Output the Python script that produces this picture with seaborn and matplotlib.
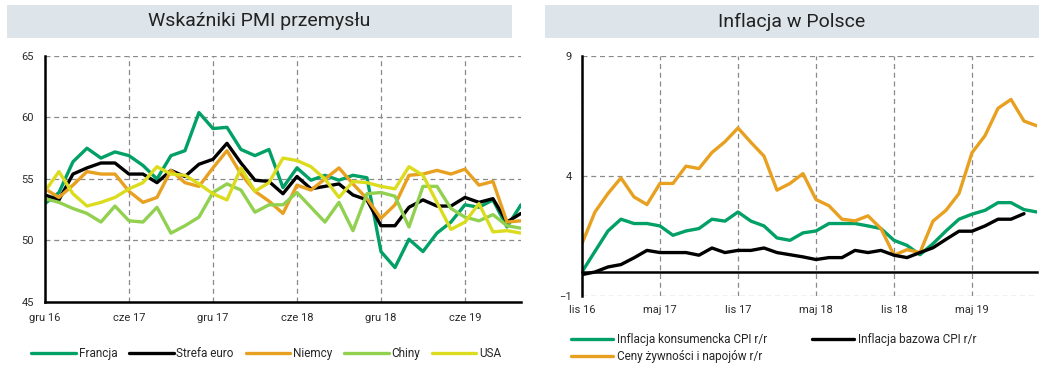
import matplotlib
matplotlib.use("Agg")
import pandas as pd
import matplotlib.pyplot as plt
import seaborn as sns
from matplotlib.patches import Rectangle

# --- data: PMI (gru 16 - paz 19) ---
pmi_ticks = ["gru 16", "cze 17", "gru 17", "cze 18", "gru 18", "cze 19"]
francja = [53.0, 53.9, 56.4, 57.5, 56.7, 57.2, 56.9, 56.1, 55.0, 56.9, 57.3, 60.4,
           59.1, 59.2, 57.4, 56.9, 57.4, 54.3, 55.9, 54.9, 55.3, 54.9, 55.3, 55.1,
           49.1, 47.8, 50.1, 49.1, 50.6, 51.5, 52.9, 52.7, 53.3, 51.1, 52.9]
strefa = [53.7, 53.3, 55.4, 55.9, 56.3, 56.3, 55.4, 55.4, 54.7, 55.7, 55.2, 56.2,
          56.6, 57.9, 56.3, 54.9, 54.8, 53.8, 55.2, 54.2, 54.4, 54.6, 53.7, 53.3,
          51.2, 51.2, 52.7, 53.3, 52.8, 52.8, 53.5, 53.1, 53.4, 51.5, 52.2]
niemcy = [54.2, 53.5, 54.5, 55.6, 55.4, 55.4, 54.0, 53.1, 53.5, 55.7, 54.7, 54.4,
          55.9, 57.3, 55.4, 54.0, 53.2, 52.2, 54.5, 54.1, 55.0, 55.9, 54.6, 53.4,
          51.8, 52.9, 55.3, 55.4, 55.7, 55.4, 55.8, 54.5, 54.8, 51.5, 51.6]
chiny = [53.4, 53.1, 52.6, 52.2, 51.5, 52.8, 51.6, 51.5, 52.7, 50.6, 51.2, 51.9,
         53.9, 54.6, 54.1, 52.3, 52.9, 52.9, 53.9, 52.7, 51.5, 53.1, 50.8, 53.8,
         53.9, 53.6, 51.1, 54.4, 54.4, 52.6, 51.9, 51.6, 52.1, 51.2, 51.0]
usa = [54.0, 55.6, 53.8, 52.8, 53.1, 53.5, 54.2, 54.7, 56.0, 55.4, 55.3, 54.6,
       53.8, 53.3, 55.9, 54.0, 54.7, 56.7, 56.5, 56.0, 55.0, 53.5, 54.8, 54.7,
       54.4, 54.2, 56.0, 55.3, 53.1, 50.9, 51.5, 53.0, 50.7, 50.8, 50.6]
pmi_names = ["Francja", "Strefa euro", "Niemcy", "Chiny", "USA"]
pmi_colors = ["#00A066", "#000000", "#E8A020", "#92D050", "#DCDC1E"]

# --- data: inflacja (lis 16 - paz 19) ---
inf_ticks = ["lis 16", "maj 17", "lis 17", "maj 18", "lis 18", "maj 19"]
cpi = [0.0, 0.86, 1.71, 2.2, 2.02, 2.02, 1.92, 1.53, 1.71, 1.81, 2.2, 2.12,
       2.5, 2.12, 1.92, 1.42, 1.32, 1.63, 1.71, 2.02, 2.02, 2.02, 1.92, 1.81,
       1.32, 1.11, 0.72, 1.18, 1.71, 2.2, 2.41, 2.57, 2.89, 2.89, 2.6, 2.5]
bazowa = [-0.11, 0.0, 0.21, 0.31, 0.59, 0.9, 0.81, 0.81, 0.81, 0.7, 1.0, 0.81,
          0.9, 0.9, 1.0, 0.81, 0.72, 0.63, 0.52, 0.6, 0.6, 0.9, 0.81, 0.9,
          0.7, 0.6, 0.81, 1.01, 1.36, 1.7, 1.7, 1.92, 2.2, 2.2, 2.43]
zywnosc = [1.18, 2.5, 3.27, 3.92, 3.13, 2.81, 3.69, 3.69, 4.41, 4.31, 4.98, 5.43,
           6.0, 5.4, 4.83, 3.41, 3.69, 4.1, 3.02, 2.76, 2.2, 2.13, 2.34, 1.81,
           0.7, 0.93, 0.81, 2.12, 2.57, 3.27, 4.97, 5.68, 6.82, 7.19, 6.29, 6.09]
inf_names = ["Inflacja konsumencka CPI r/r", "Ceny żywności i napojów r/r",
             "Inflacja bazowa CPI r/r"]
inf_colors = ["#00A066", "#E8A020", "#000000"]


def to_long(series, names):
    rows = []
    for name, vals in zip(names, series):
        for i, v in enumerate(vals):
            rows.append({"m": i, "v": v, "s": name})
    return pd.DataFrame(rows)


pmi_df = to_long([francja, strefa, niemcy, chiny, usa], pmi_names)
inf_df = to_long([cpi, zywnosc, bazowa], inf_names)

sns.set_theme(style="white")
plt.rcParams["font.family"] = ["Roboto", "DejaVu Sans"]

fig = plt.figure(figsize=(10.48, 3.70), dpi=100)
ax1 = fig.add_axes([0.0429, 0.1838, 0.4542, 0.6649])
ax2 = fig.add_axes([0.5553, 0.2, 0.4342, 0.6486])

grid_kw = dict(color="#8a8a8a", linestyle=(0, (4, 3)), linewidth=0.9)

# --- left: PMI ---
sns.lineplot(data=pmi_df, x="m", y="v", hue="s", hue_order=pmi_names,
             palette=dict(zip(pmi_names, pmi_colors)), linewidth=2.4,
             legend=False, ax=ax1)
ax1.set_xlim(0, 34)
ax1.set_ylim(45, 65)
ax1.set_yticks([45, 50, 55, 60, 65])
ax1.set_xticks(range(0, 31, 6))
ax1.set_xticklabels(pmi_ticks)
ax1.grid(True, **grid_kw)
ax1.set_axisbelow(True)
for s in ["top", "right"]:
    ax1.spines[s].set_visible(False)
for s in ["left", "bottom"]:
    ax1.spines[s].set_color("black")
    ax1.spines[s].set_linewidth(1.8)
ax1.tick_params(axis="both", direction="out", length=4, width=1.2, color="black",
                labelsize=8, labelcolor="#2a2a2a", pad=4)
ax1.set_xlabel("")
ax1.set_ylabel("")
ax1.legend(ax1.get_lines(), pmi_names, loc="center", ncol=5, frameon=False,
           bbox_to_anchor=(0.254, 0.045), bbox_transform=fig.transFigure,
           fontsize=8.5, handlelength=3.8, handletextpad=0.2, columnspacing=1.0,
           borderaxespad=0)

# --- right: inflacja ---
sns.lineplot(data=inf_df, x="m", y="v", hue="s", hue_order=inf_names,
             palette=dict(zip(inf_names, inf_colors)), linewidth=2.4,
             legend=False, ax=ax2)
ax2.set_xlim(0, 35)
ax2.set_ylim(-1, 9)
ax2.set_yticks([-1, 4, 9])
ax2.set_xticks(range(0, 31, 6))
ax2.set_xticklabels(inf_ticks)
ax2.grid(True, **grid_kw)
ax2.set_axisbelow(True)
for s in ["top", "right"]:
    ax2.spines[s].set_visible(False)
ax2.spines["left"].set_color("black")
ax2.spines["left"].set_linewidth(1.8)
ax2.spines["bottom"].set_color("black")
ax2.spines["bottom"].set_linewidth(1.8)
ax2.spines["bottom"].set_position(("data", 0))
ax2.tick_params(axis="y", direction="out", length=3, width=1.2, color="black",
                labelsize=8, labelcolor="#2a2a2a", pad=4)
ax2.tick_params(axis="x", direction="out", length=3, width=1.2, color="black",
                labelsize=8, labelcolor="#2a2a2a", pad=21)
ax2.set_xlabel("")
ax2.set_ylabel("")
ax2.legend(ax2.get_lines(), inf_names, loc="upper left", ncol=2, frameon=False,
           bbox_to_anchor=(0.54, 0.113), bbox_transform=fig.transFigure,
           fontsize=8.5, handlelength=3.6, handletextpad=0.3, columnspacing=3.8,
           labelspacing=0.35, borderaxespad=0)

# --- title bars ---
bar_color = "#DDE4EA"
fig.add_artist(Rectangle((0.0067, 0.8973), 0.4819, 0.0892, transform=fig.transFigure,
                         facecolor=bar_color, edgecolor="none"))
fig.add_artist(Rectangle((0.52, 0.8973), 0.4714, 0.0892, transform=fig.transFigure,
                         facecolor=bar_color, edgecolor="none"))
fig.text(0.2476, 0.9419, "Wskaźniki PMI przemysłu", ha="center", va="center",
         fontsize=14, color="#222222")
fig.text(0.7557, 0.9419, "Inflacja w Polsce", ha="center", va="center",
         fontsize=14, color="#222222")

fig.savefig("out.png", dpi=100)
